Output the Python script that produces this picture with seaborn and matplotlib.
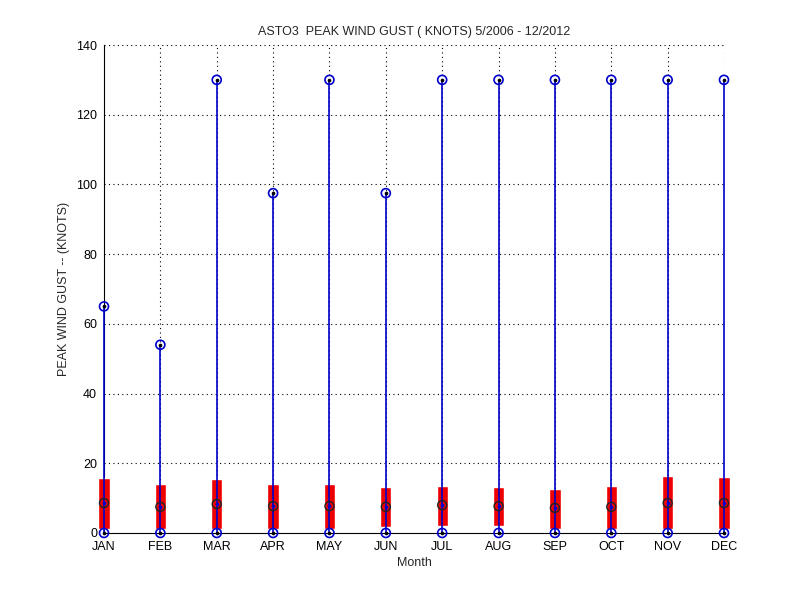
import matplotlib
matplotlib.use('Agg')
import numpy as np
import pandas as pd
import seaborn as sns
from matplotlib import pyplot as plt

months = ['JAN', 'FEB', 'MAR', 'APR', 'MAY', 'JUN',
          'JUL', 'AUG', 'SEP', 'OCT', 'NOV', 'DEC']
gust_max = [65, 54, 130, 97.5, 130, 97.5, 130, 130, 130, 130, 130, 130]
gust_min = [0, 0, 0, 0, 0, 0, 0, 0, 0, 0, 0, 0]
q_low = [1.0, 1.1, 1.1, 1.0, 1.2, 1.8, 2.1, 2.1, 1.2, 1.0, 1.2, 1.1]
q_high = [15.8, 14.0, 15.5, 14.0, 14.0, 13.2, 13.5, 13.2, 12.6, 13.5, 16.4, 16.1]
median = [8.6, 7.5, 8.3, 7.7, 7.7, 7.5, 8.0, 7.7, 7.2, 7.5, 8.6, 8.6]

sns.set_style('white')
plt.rcParams['font.family'] = ['Liberation Sans', 'DejaVu Sans']
plt.rcParams['font.size'] = 9

df = pd.DataFrame({'month': months, 'pos': np.arange(len(months)),
                   'max': gust_max, 'min': gust_min,
                   'lo': q_low, 'hi': q_high, 'med': median})

fig = plt.figure(figsize=(8, 6), dpi=100)
ax = fig.add_axes([0.13, 0.1117, 0.775, 0.8133])

# grid dotted like matlab
for p in df['pos'][1:]:
    ax.axvline(p, color='black', ls=(0, (1, 3)), lw=0.8, zorder=0)
for yv in range(20, 141, 20):
    ax.axhline(yv, color='black', ls=(0, (1, 3)), lw=0.8, zorder=0)

# red interquartile bars
bars = ax.bar(df['pos'], df['hi'] - df['lo'], bottom=df['lo'], width=0.2,
              color='#ee0000', zorder=2)
for b in bars:
    b.set_clip_on(False)
# whisker line from min to max
ax.vlines(df['pos'], df['min'], df['max'], color='#0000cc', lw=1.2,
          zorder=3, clip_on=False)

# markers
ring = dict(ax=ax, marker='o', s=42, facecolor='none', zorder=4, clip_on=False)
dot = dict(ax=ax, marker='o', s=7, linewidth=0, zorder=5, clip_on=False)
sns.scatterplot(data=df, x='pos', y='max', edgecolor='#0000cc', linewidth=1.2, **ring)
sns.scatterplot(data=df, x='pos', y='min', edgecolor='#0000cc', linewidth=1.2, **ring)
sns.scatterplot(data=df, x='pos', y='med', edgecolor='#222222', linewidth=1.0, **ring)
sns.scatterplot(data=df, x='pos', y='max', color='black', **dot)
sns.scatterplot(data=df, x='pos', y='min', color='black', **dot)
sns.scatterplot(data=df, x='pos', y='med', color='#0000cc', **dot)

ax.set_xlim(0, 11)
ax.set_ylim(0, 140)
ax.set_xticks(df['pos'])
ax.set_xticklabels(months)
ax.set_yticks(range(0, 141, 20))
ax.tick_params(direction='in', length=4, width=0.8, colors='black',
               labelsize=9)
ax.tick_params(axis='x', pad=6)
ax.tick_params(axis='y', pad=5)
for s in ['top', 'right']:
    ax.spines[s].set_visible(False)
for s in ['left', 'bottom']:
    ax.spines[s].set_color('black')
    ax.spines[s].set_linewidth(0.8)
    ax.spines[s].set_zorder(1)

ax.set_title('ASTO3  PEAK WIND GUST ( KNOTS) 5/2006 - 12/2012',
             fontsize=9, pad=7)
ax.set_xlabel('Month', fontsize=9, labelpad=3)
ax.set_ylabel('PEAK WIND GUST -- (KNOTS)', fontsize=9, labelpad=4)

fig.savefig('out.png', dpi=100)
